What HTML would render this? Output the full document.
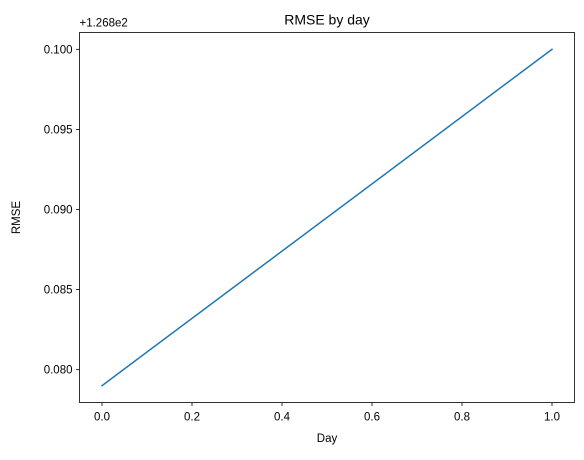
<!DOCTYPE html>
<html><head><meta charset="utf-8"><style>
body{margin:0;background:#fff;}
svg text{font-family:"Liberation Sans","DejaVu Sans",sans-serif;fill:#000;}
</style></head><body>
<svg id="c" width="584" height="455"></svg>
<script>
const days=[0,1];
const rmse=[0.079,0.100];
const xTicks=[0.0,0.2,0.4,0.6,0.8,1.0];
const xTickLabels=["0.0","0.2","0.4","0.6","0.8","1.0"];
const yTicks=[0.080,0.085,0.090,0.095,0.100];
const yTickLabels=["0.080","0.085","0.090","0.095","0.100"];

const L=79.5,R=574.5,T=32.5,B=402.5;
const xmin=Math.min(...days),xmax=Math.max(...days),xm=(xmax-xmin)*0.05;
const ymin=Math.min(...rmse),ymax=Math.max(...rmse),ym=(ymax-ymin)*0.05;
const X=v=>L+(v-(xmin-xm))/((xmax+xm)-(xmin-xm))*(R-L);
const Y=v=>B-(v-(ymin-ym))/((ymax+ym)-(ymin-ym))*(B-T);
const svg=document.getElementById('c');
const NS='http://www.w3.org/2000/svg';
function mk(t,a,txt){const e=document.createElementNS(NS,t);for(const k in a)e.setAttribute(k,a[k]);if(txt!=null)e.textContent=txt;svg.appendChild(e);return e;}

let line=mk('polyline',{points:days.map((d,i)=>X(d)+','+Y(rmse[i])).join(' '),fill:'none',stroke:'#1f77b4','stroke-width':1.5,'stroke-linecap':'square'});



xTicks.forEach((t,i)=>{
  let tk=mk('line',{x1:X(t),x2:X(t),y1:B,y2:B+3.5,stroke:'#000','stroke-width':0.8});
  
  
  let lb=mk('text',{x:X(t),y:B+18,'text-anchor':'middle','font-size':'11.5px'},xTickLabels[i]);
  
  
});
yTicks.forEach((t,i)=>{
  let tk=mk('line',{x1:L-3.5,x2:L,y1:Y(t),y2:Y(t),stroke:'#000','stroke-width':0.8});
  
  
  let lb=mk('text',{x:L-7,y:Y(t)+4,'text-anchor':'end','font-size':'11.5px'},yTickLabels[i]);
  
  
});
let fr=mk('rect',{x:L,y:T,width:R-L,height:B-T,fill:'none',stroke:'#000','stroke-width':0.8});


let off=mk('text',{x:L,y:T-6,'font-size':'11.5px'},'+1.268e2');


let ti=mk('text',{x:(L+R)/2,y:T-8,'text-anchor':'middle','font-size':'14px'},'RMSE by day');


let xl=mk('text',{x:(L+R)/2,y:442,'text-anchor':'middle','font-size':'11.5px'},'Day');


let yl=mk('text',{x:20,y:(T+B)/2,'text-anchor':'middle','font-size':'11.5px',transform:'rotate(-90 20 '+((T+B)/2)+')'},'RMSE');


</script>
</body></html>
